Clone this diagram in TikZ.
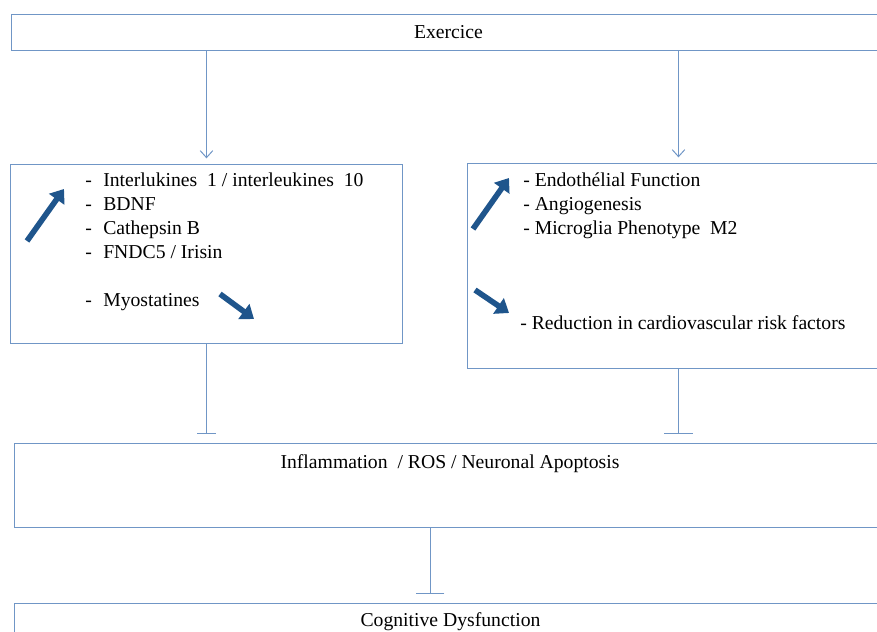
\documentclass[tikz,border=0pt]{standalone}
\usepackage{fontspec}
\setmainfont{Liberation Serif}
\usetikzlibrary{arrows.meta}
\definecolor{linkblue}{RGB}{112,150,198}
\definecolor{trendblue}{RGB}{31,85,140}
\tikzset{>={Straight Barb[length=5pt,width=9pt]}}
\tikzset{
  txt/.style={font=\fontsize{14}{17}\selectfont, inner sep=0pt},
  frame/.style={txt, draw=linkblue, line width=0.7pt, rectangle, anchor=north west},
  itm/.style={txt, anchor=west, text height=9.5pt, text depth=3pt},
  link/.style={draw=linkblue, line width=0.7pt},
  trend/.style={draw=trendblue, line width=4pt, -{Triangle[length=9pt,width=13pt]}}
}

\begin{document}
\begin{tikzpicture}
\useasboundingbox (0,0) rectangle (21.925,15.8);
\clip (0,0) rectangle (21.925,15.8);

	\node[frame, minimum width=21.85cm, minimum height=0.9cm] (exo) at (0.275,15.45) {Exercice};
	\node[frame, minimum width=9.8cm, minimum height=4.475cm] (lbox) at (0.25,11.7) {};
	\node[frame, minimum width=10.55cm, minimum height=5.125cm] (rbox) at (11.675,11.725) {};
	\node[frame, minimum width=21.8cm, minimum height=2.1cm] (infl) at (0.35,4.725) {};
	\node[frame, minimum width=21.8cm, minimum height=0.925cm] (cog) at (0.35,0.725) {Cognitive Dysfunction};
	\node[txt] (infltxt) at (11.25,4.2) {Inflammation~~/ ROS / Neuronal Apoptosis};


	\node[itm] (d1) at (2.125,11.25) {-};
	\node[itm] (d2) at (2.125,10.65) {-};
	\node[itm] (d3) at (2.125,10.05) {-};
	\node[itm] (d4) at (2.125,9.45) {-};
	\node[itm] (d5) at (2.125,8.25) {-};
	\node[itm] (l1) at (2.575,11.25) {Interlukines~~1 / interleukines~~10};
	\node[itm] (l2) at (2.575,10.65) {BDNF};
	\node[itm] (l3) at (2.575,10.05) {Cathepsin B};
	\node[itm] (l4) at (2.575,9.45) {FNDC5 / Irisin};
	\node[itm] (l5) at (2.575,8.25) {Myostatines};

	\node[itm] (r1) at (13.075,11.25) {- Endothélial Function};
	\node[itm] (r2) at (13.075,10.65) {- Angiogenesis};
	\node[itm] (r3) at (13.075,10.05) {- Microglia Phenotype~~M2};
	\node[itm] (r4) at (13.0,7.675) {- Reduction in cardiovascular risk factors};


	\draw[trend] (0.675,9.775) -- (1.6,11.075);
	\draw[trend] (5.5,8.45) -- (6.35,7.825);
	\draw[trend] (11.825,10.075) -- (12.725,11.35);
	\draw[trend] (11.875,8.55) -- (12.725,7.975);


	\draw[link,->,shorten >=4pt] (lbox.north |- exo.south) -- (lbox.north);
	\draw[link,->,shorten >=4pt] (rbox.north |- exo.south) -- (rbox.north);

	\draw[link,-{Bar[width=13.5pt]},shorten >=0.225cm] (lbox.south) -- (lbox.south |- infl.north);
	\draw[link,-{Bar[width=20.5pt]},shorten >=0.225cm] (rbox.south) -- (rbox.south |- infl.north);
	\coordinate (drop) at (10.75,0);
	\draw[link,-{Bar[width=20.5pt]},shorten >=0.225cm] (infl.south -| drop) -- (cog.north -| drop);
\end{tikzpicture}
\end{document}
